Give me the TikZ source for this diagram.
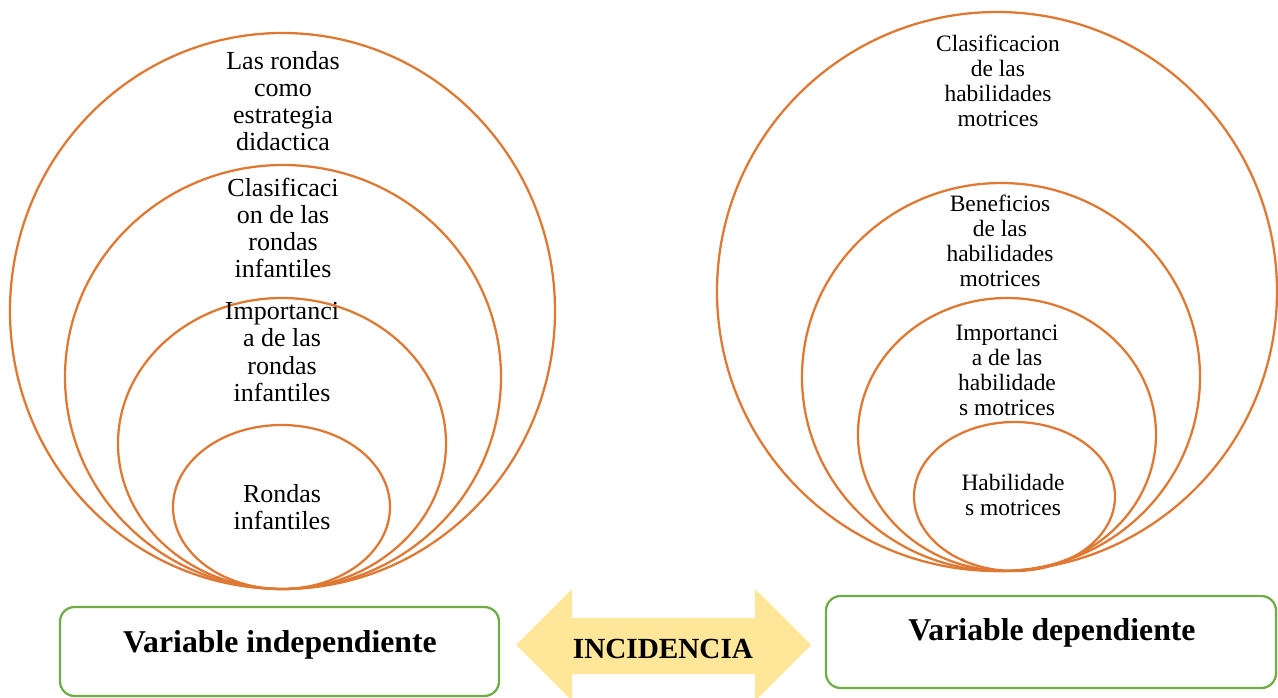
\documentclass[tikz,border=0pt]{standalone}
\usepackage{fontspec}
\setmainfont{Liberation Serif}
\usepackage{tikz}
\usetikzlibrary{shapes}

\definecolor{ringorange}{RGB}{222,120,50}
\definecolor{boxgreen}{RGB}{112,173,71}
\definecolor{arrowyellow}{RGB}{255,230,153}

\begin{document}
\begin{tikzpicture}[x=0.75pt,y=0.75pt,yscale=-1,xscale=1,
  ring/.style={draw=ringorange,line width=1.7pt},
  ltxt/.style={align=center,inner sep=0.75pt,font=\fontsize{19.5}{20.3}\selectfont},
  rtxt/.style={align=center,inner sep=0.75pt,font=\fontsize{17.6}{18.8}\selectfont},
  varbox/.style={draw=boxgreen,line width=1.7pt,rounded corners=11pt},
  vartxt/.style={inner sep=0.75pt,font=\fontsize{23.8}{26}\selectfont\bfseries},
  inctxt/.style={inner sep=0.75pt,font=\fontsize{21.9}{24}\selectfont\bfseries}]
%set diagram left start at 0, and has size of 1278 x 698
\useasboundingbox (0,0) rectangle (1278,698);

%Ellipses, left set
\draw [ring] (282.5,311) ellipse (272.5 and 278);
\draw [ring] (283,377) ellipse (218 and 212);
\draw [ring] (282,443.5) ellipse (164 and 145.5);
\draw [ring] (281.5,507) ellipse (108.5 and 82);

%Ellipses, right set
\draw [ring] (997,291.5) ellipse (280 and 279.5);
\draw [ring] (1001,377) ellipse (199 and 194);
\draw [ring] (1007,434.5) ellipse (149 and 136.5);
\draw [ring] (1014.5,496.5) ellipse (100.5 and 74.5);

% Text Node
\node [ltxt] (lrondas) at (283,101) {Las rondas\\como\\estrategia\\didactica};
% Text Node
\node [ltxt] (lclasif) at (283,228) {Clasificaci\\on de las\\rondas\\infantiles};
% Text Node
\node [ltxt] (limport) at (282,352) {Importanci\\a de las\\rondas\\infantiles};
% Text Node
\node [ltxt] (linfant) at (282,507) {Rondas\\infantiles};
% Text Node
\node [rtxt] (rclasif) at (998,81) {Clasificacion\\de las\\habilidades\\motrices};
% Text Node
\node [rtxt] (rbenef) at (1000,241) {Beneficios\\de las\\habilidades\\motrices};
% Text Node
\node [rtxt] (rimport) at (1007,370) {Importanci\\a de las\\habilidade\\s motrices};
% Text Node
\node [rtxt] (rhabil) at (1013,495) {Habilidade\\s motrices};

%Rounded Rect, variables
\draw [varbox] (60,607) rectangle (499,696);
\draw [varbox] (826,596) rectangle (1276,688);
% Text Node
\node [vartxt] (vindep) at (280,645) {Variable independiente};
% Text Node
\node [vartxt] (vdep) at (1052,633) {Variable dependiente};

%Double arrow
\fill [arrowyellow] (516,645) -- (572,589) -- (572,618) -- (755,618) -- (755,589) -- (811,645) -- (755,701) -- (755,674) -- (572,674) -- (572,701) -- cycle;
% Text Node
\node [inctxt] (incid) at (663,649) {INCIDENCIA};

\end{tikzpicture}
\end{document}
